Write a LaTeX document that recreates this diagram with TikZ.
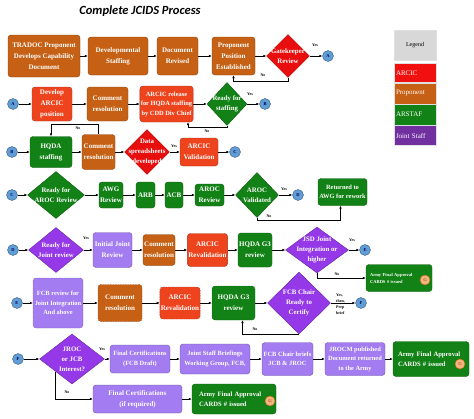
\documentclass[tikz,border=0pt]{standalone}
\usepackage{fontspec}
\setmainfont{Liberation Serif}
\newfontfamily\titlefont{Carlito}
\usetikzlibrary{shapes.geometric, arrows.meta, positioning}
\definecolor{arcicred}{RGB}{238,68,30}
\definecolor{legred}{RGB}{240,16,16}
\definecolor{diared}{RGB}{232,14,14}
\definecolor{propbrown}{RGB}{197,96,20}
\definecolor{staffgreen}{RGB}{18,130,22}
\definecolor{jointlav}{RGB}{162,124,240}
\definecolor{jsviolet}{RGB}{148,56,232}
\definecolor{legpurple}{RGB}{112,48,160}
\definecolor{legray}{RGB}{216,216,216}
\definecolor{linkblue}{RGB}{96,156,214}
\definecolor{gpeach}{RGB}{244,180,132}
\tikzset{
  box/.style={rectangle, rounded corners=3pt, thin, text=white, align=center, inner sep=1pt, font=\fontsize{7}{11}\selectfont\bfseries},
  tight/.style={font=\fontsize{6.4}{9.5}\selectfont\bfseries},
  arcic/.style={box, fill=arcicred, draw=arcicred!70!black},
  prop/.style={box, fill=propbrown, draw=propbrown!70!black},
  arstaf/.style={box, fill=staffgreen, draw=staffgreen!70!black},
  joint/.style={box, fill=jointlav, draw=jointlav!70!black},
  dashbox/.style={dash pattern=on 1.5pt off 1pt},
  dia/.style={diamond, thin, inner sep=0pt},
  reddia/.style={dia, fill=diared, draw=diared!70!black},
  greendia/.style={dia, fill=staffgreen, draw=staffgreen!70!black},
  jdia/.style={dia, fill=jsviolet, draw=jsviolet!70!black},
  dtext/.style={text=white, align=center, inner sep=0pt, font=\fontsize{6.8}{10}\selectfont\bfseries},
  link/.style={circle, minimum size=11pt, inner sep=0pt, fill=linkblue, draw=linkblue!60!black, thin, text=blue!30!black, font=\fontsize{4.5}{5}\selectfont\bfseries},
  gcirc/.style={circle, minimum size=10pt, inner sep=0pt, fill=gpeach, draw=orange!80!black, thin, text=orange!70!black, font=\fontsize{4.5}{5}\selectfont\bfseries},
  yn/.style={inner sep=0pt, align=left, font=\fontsize{4}{6}\selectfont\bfseries},
  arr/.style={-{Latex[length=3pt,width=2.5pt]}, line width=0.5pt},
  legbox/.style={rectangle, minimum width=42, text width=38, inner sep=2pt, align=left, text=white, draw=black!12, font=\fontsize{7}{8}\selectfont},
}
\begin{document}
\begin{tikzpicture}[x=1pt, y=-1pt]
  \useasboundingbox (0,0) rectangle (474,418);
  \node[font=\titlefont\bfseries\itshape\fontsize{12.5}{14}\selectfont] (title) at (140,11) {Complete JCIDS Process};

  \node[prop, minimum width=72, minimum height=42] (trad) at (44,56) {TRADOC Proponent\\Develops Capability\\Document};
  \node[prop, minimum width=60, minimum height=38] (devstaff) at (118,56) {Developmental\\Staffing};
  \node[prop, minimum width=41, minimum height=38] (docrev) at (177.5,56) {Document\\Revised};
  \node[prop, minimum width=43, minimum height=38] (pos) at (233.5,56) {Proponent\\Position\\Established};
  \node[reddia, minimum width=43, minimum height=43, label={[dtext]center:{Gatekeeper\\Review}}] (gate) at (288,56) {};
  \node[link] (toA) at (328,56) {A};
  \node[yn] (gateyes) at (315,45) {Yes};
  \node[yn] (gateno) at (263,75) {No};
  \draw[arr] (trad) -- (devstaff);
  \draw[arr] (devstaff) -- (docrev);
  \draw[arr] (docrev) -- (pos);
  \draw[arr] (pos) -- (gate);
  \draw[arr] (gate) -- (toA);
  \draw[arr] (gate.south) -- ++(0,3.5) -| (pos.south);

  \node[link] (fromA) at (13,104) {A};
  \node[arcic, minimum width=40, minimum height=34] (devarc) at (52,104) {Develop\\ARCIC\\position};
  \node[prop, minimum width=41, minimum height=34] (comres1) at (107.5,104) {Comment\\resolution};
  \node[arcic, tight, minimum width=53, minimum height=36] (release) at (166.5,104) {ARCIC release\\for HQDA staffing\\by CDD Div Chief};
  \node[greendia, minimum width=40, minimum height=43, label={[dtext]center:{Ready for\\staffing}}] (ready) at (227,104) {};
  \node[link] (toB) at (265,104) {B};
  \node[yn] (readyyes) at (250,94) {Yes};
  \node[yn] (readyno) at (207,131) {No};
  \draw[arr] (fromA) -- (devarc);
  \draw[arr] (devarc) -- (comres1);
  \draw[arr] (comres1) -- (release);
  \draw[arr] (release) -- (ready);
  \draw[arr] (ready) -- (toB);
  \draw[arr] (ready.south) -- ++(0,1.5) -| ([xshift=21.5pt]release.south);

  \node[link] (fromB) at (12,152) {B};
  \node[arstaf, minimum width=42, minimum height=31] (hqda) at (51,152) {HQDA\\staffing};
  \node[prop, minimum width=33, minimum height=35] (comres2) at (98.5,152) {Comment\\resolution};
  \node[reddia, minimum width=45, minimum height=45, label={[dtext]center:{Data\\spreadsheets\\developed}}] (data) at (147,152) {};
  \node[arcic, minimum width=38, minimum height=28] (valid) at (199,152) {ARCIC\\Validation};
  \node[link] (toC) at (235,152) {C};
  \node[yn] (datayes) at (174,146) {Yes};
  \node[yn] (comno) at (78,128) {No};
  \draw[arr] (fromB) -- (hqda);
  \draw[arr] (hqda) -- (comres2);
  \draw[arr] (comres2) -- (data);
  \draw[arr] (data) -- (valid);
  \draw[arr] (valid) -- (toC);
  \draw[arr] (comres2.north) -- ++(0,-10) -| (hqda.north);

  \node[link] (fromC) at (12,195) {C};
  \node[greendia, minimum width=57, minimum height=47, label={[dtext]center:{Ready for\\AROC Review}}] (rdyaroc) at (56,195) {};
  \node[arstaf, minimum width=24, minimum height=26] (awg) at (111,195) {AWG\\Review};
  \node[arstaf, minimum width=19, minimum height=26] (arb) at (145.5,195) {ARB};
  \node[arstaf, minimum width=18, minimum height=26] (acb) at (174,195) {ACB};
  \node[arstaf, minimum width=29, minimum height=22] (arocrev) at (209.5,195) {AROC\\Review};
  \node[greendia, minimum width=43, minimum height=45, label={[dtext]center:{AROC\\Validated}}] (arocval) at (257,195) {};
  \node[link] (toD) at (298,195) {D};
  \node[arstaf, tight, minimum width=49, minimum height=27] (rework) at (342.5,192) {Returned to\\AWG for rework};
  \node[yn] (arocyes) at (284,189) {Yes};
  \node[yn] (arocno) at (269,216) {No};
  \draw[arr] (fromC) -- (rdyaroc);
  \draw[arr] (rdyaroc) -- (awg);
  \draw[arr] (awg) -- (arb);
  \draw[arr] (arb) -- (acb);
  \draw[arr] (acb) -- (arocrev);
  \draw[arr] (arocrev) -- (arocval);
  \draw[arr] (arocval) -- (toD);
  \draw[arr] (arocval.south) -- ++(0,3) -| ([xshift=-2pt]rework.south);

  \node[link] (fromD) at (13,250) {D};
  \node[jdia, minimum width=55, minimum height=45, label={[dtext]center:{Ready for\\Joint review}}] (rdyjoint) at (56,250) {};
  \node[joint, minimum width=39, minimum height=35] (initjr) at (112.5,250) {Initial Joint\\Review};
  \node[prop, minimum width=32, minimum height=31] (comres3) at (159,250) {Comment\\resolution};
  \node[arcic, minimum width=39, minimum height=33] (reval1) at (207.5,250) {ARCIC\\Revalidation};
  \node[arstaf, minimum width=34, minimum height=34] (g3rev1) at (255,250) {HQDA G3\\review};
  \node[jdia, minimum width=63, minimum height=46, label={[dtext]center:{JSD Joint\\Integration or\\higher}}] (jsd) at (317,250) {};
  \node[link] (toE) at (365,250) {E};
  \node[arstaf, minimum width=66, minimum height=27, text width=58, align=left, font=\fontsize{4.5}{7}\selectfont\bfseries] (army1) at (399,278) {Army Final Approval\\CARDS \# issued};
  \node[gcirc] (gone) at (425,280) {G};
  \node[yn] (joinyes) at (86,238) {Yes};
  \node[yn] (jsdyes) at (352,240) {Yes};
  \node[yn] (jsdno) at (337,274) {No};
  \draw[arr] (fromD) -- (rdyjoint);
  \draw[arr] (rdyjoint) -- (initjr);
  \draw[arr] (initjr) -- (comres3);
  \draw[arr] (comres3) -- (reval1);
  \draw[arr] (reval1) -- (g3rev1);
  \draw[arr] (g3rev1) -- (jsd);
  \draw[arr] (jsd) -- (toE);
  \draw[arr] (jsd.south) |- (army1);

  \node[link] (fromE) at (17,303) {E};
  \node[joint, dashbox, tight, minimum width=50, minimum height=50] (fcbrev) at (58,303) {FCB review for\\Joint Integration\\And above};
  \node[prop, dashbox, minimum width=44, minimum height=37] (comres4) at (120,303) {Comment\\resolution};
  \node[arcic, dashbox, minimum width=40, minimum height=32] (reval2) at (180,303) {ARCIC\\Revalidation};
  \node[arstaf, dashbox, minimum width=43, minimum height=34] (g3rev2) at (233.5,303) {HQDA G3\\review};
  \node[jdia, minimum width=63, minimum height=62, label={[dtext]center:{FCB Chair\\Ready to\\Certify}}] (chair) at (299,303) {};
  \node[link] (toF) at (361,303) {F};
  \node[yn, anchor=west] (chairyes) at (336,304) {Yes,\\then,\\Prep\\brief};
  \node[yn] (chairno) at (255,329) {No};
  \draw[arr] (fromE) -- (fcbrev);
  \draw[arr] (fcbrev) -- (comres4);
  \draw[arr] (comres4) -- (reval2);
  \draw[arr] (reval2) -- (g3rev2);
  \draw[arr] (g3rev2) -- (chair);
  \draw[arr] (chair) -- (toF);
  \draw[arr] (chair.south) -| ([xshift=9pt]g3rev2.south);

  \node[link] (fromF) at (18,359) {F};
  \node[jdia, minimum width=65, minimum height=50, label={[dtext]center:{JROC\\or JCB\\Interest?}}] (jroc) at (72,359) {};
  \node[joint, tight, minimum width=60, minimum height=28] (fcdraft) at (140,359) {Final Certifications\\(FCB Draft)};
  \node[joint, tight, minimum width=70, minimum height=30] (jsbrief) at (215,359) {Joint Staff Briefings\\Working Group, FCB,};
  \node[joint, tight, minimum width=51, minimum height=33] (chairbrief) at (287.5,359) {FCB Chair briefs\\JCB \& JROC};
  \node[joint, tight, minimum width=60, minimum height=33] (jrocm) at (355,359) {JROCM published\\Document returned\\to the Army};
  \node[arstaf, minimum width=76, minimum height=35, text width=66, align=left, font=\fontsize{6.6}{10}\selectfont\bfseries] (army2) at (431,359) {Army Final Approval\\CARDS \# issued};
  \node[gcirc] (gtwo) at (460,364) {G};
  \node[yn] (jrocyes) at (102,349) {Yes};
  \node[yn] (jrocno) at (67,392) {No};
  \draw[arr] (fromF) -- (jroc);
  \draw[arr] (jroc) -- (fcdraft);
  \draw[arr] (fcdraft) -- (jsbrief);
  \draw[arr] (jsbrief) -- (chairbrief);
  \draw[arr] (chairbrief) -- (jrocm);
  \draw[arr] (jrocm) -- (army2);

  \node[joint, minimum width=89, minimum height=28] (fcreq) at (137.5,399) {Final Certifications\\(if required)};
  \node[arstaf, minimum width=84, minimum height=30, text width=70, align=left, font=\fontsize{6.6}{10}\selectfont\bfseries] (army3) at (234,399) {Army Final Approval\\CARDS \# issued};
  \node[gcirc] (gthree) at (270,401) {G};
  \draw[arr] (jroc.south west) |- (fcreq);
  \draw[arr] (fcreq) -- (army3);

  \node[legbox, fill=legray, text=black, minimum height=30, align=center, font=\fontsize{6}{7}\selectfont] (leg) at (415,45) {Legend};
  \node[legbox, fill=legred, minimum height=19, below=3pt of leg] (legarc) {ARCIC};
  \node[legbox, fill=propbrown, minimum height=21, below=0pt of legarc] (legprop) {Proponent};
  \node[legbox, fill=staffgreen, minimum height=21, below=0pt of legprop] (legstaf) {ARSTAF};
  \node[legbox, fill=legpurple, minimum height=20, below=0pt of legstaf] (legjs) {Joint Staff};
\end{tikzpicture}
\end{document}
